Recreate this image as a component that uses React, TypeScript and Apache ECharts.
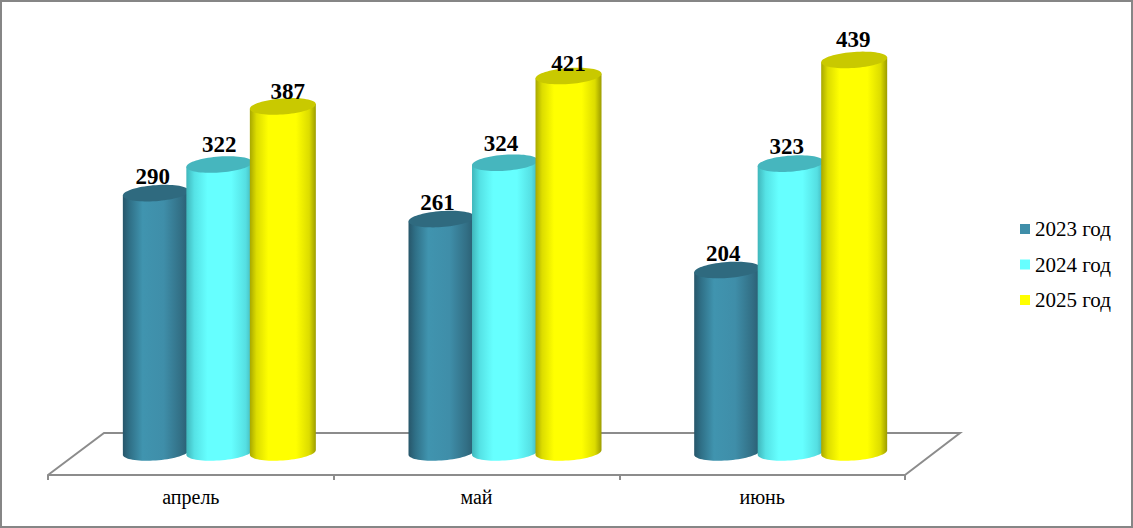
import React, { useEffect, useRef } from "react";
import * as echarts from "echarts";

const categories = ["апрель", "май", "июнь"];
const seriesNames = ["2023 год", "2024 год", "2025 год"];
const values2023 = [290, 261, 204];
const values2024 = [322, 324, 323];
const values2025 = [387, 421, 439];
const allValues = [values2023, values2024, values2025];

// label nudges [dx, dy] per series and category
const labelNudges = [
  [[-3, 0], [-4, 0], [-4, 0]],
  [[0, -3], [-4, -2], [-4, 0]],
  [[5, 2], [0, 4], [-1, -3]],
];

const FONT = '"Liberation Serif", "Times New Roman", serif';

const bodyStops = [
  [[0, "#27566a"], [0.1, "#2f6f86"], [0.3, "#4094af"], [0.62, "#3f8ea9"], [0.88, "#326f85"], [1, "#2a5d71"]],
  [[0, "#40b6bb"], [0.12, "#55e2e5"], [0.32, "#66ffff"], [0.68, "#66ffff"], [0.9, "#55dfe2"], [1, "#42b4b8"]],
  [[0, "#a8a800"], [0.1, "#dcdc00"], [0.28, "#ffff00"], [0.7, "#ffff00"], [0.9, "#dcdc00"], [1, "#9c9c00"]],
];
const topColors = ["#2f6a7f", "#46b6be", "#c9c900"];
const legendColors = ["#3f8ea9", "#66ffff", "#ffff00"];

const makeRender = (seriesIdx: number) => (params: any, api: any) => {
  const cat = api.value(0);
  const val = api.value(1);
  const band = api.size([1, 0])[0];
  const top = api.coord([cat, val]);
  const base = api.coord([cat, 0]);
  const cx = top[0] + band * 0.0998 + (seriesIdx - 1) * band * 0.2223;
  const a = band * 0.1155;
  const b = 8;
  const shear = 0.07;
  const lower: number[][] = [];
  const upper: number[][] = [];
  const steps = 36;
  for (let i = 0; i <= steps; i++) {
    const t = Math.PI - (Math.PI * i) / steps;
    const dx = a * Math.cos(t);
    lower.push([cx + dx, base[1] - dx * shear + b * Math.sin(t)]);
  }
  for (let i = 0; i < steps * 2; i++) {
    const t = (Math.PI * i) / steps;
    const dx = a * Math.cos(t);
    upper.push([cx + dx, top[1] - dx * shear + b * Math.sin(t)]);
  }
  const bodyPoints = [
    [cx - a, top[1] + a * shear],
    ...lower,
    [cx + a, top[1] - a * shear],
  ];
  const nudge = labelNudges[seriesIdx][params.dataIndex];
  return {
    type: "group",
    children: [
      {
        type: "polygon",
        shape: { points: bodyPoints },
        style: {
          fill: new echarts.graphic.LinearGradient(
            0, 0, 1, 0,
            bodyStops[seriesIdx].map(([offset, color]) => ({ offset, color }))
          ),
        },
      },
      {
        type: "polygon",
        shape: { points: upper },
        style: { fill: topColors[seriesIdx] },
      },
      {
        type: "text",
        x: cx + nudge[0],
        y: top[1] - 17 + nudge[1],
        z2: 10,
        style: {
          text: String(val),
          fontFamily: FONT,
          fontWeight: "bold",
          fontSize: 23,
          fill: "#000",
          align: "center",
          verticalAlign: "middle",
        },
      },
    ],
  };
};

export default function App() {
  const ref = useRef<HTMLDivElement>(null);
  useEffect(() => {
    const chart = echarts.init(ref.current!, undefined, { renderer: "svg" });
    chart.setOption({
      animation: false,
      backgroundColor: "#fff",
      grid: { left: 48, right: 228, top: 5.4, height: 447 },
      xAxis: {
        type: "category",
        data: categories,
        offset: 22.6,
        boundaryGap: true,
        axisLine: { show: true, onZero: false, lineStyle: { color: "#8c8c8c", width: 2 } },
        axisTick: { show: true, length: 5, lineStyle: { color: "#8c8c8c", width: 2 } },
        axisLabel: { fontFamily: FONT, fontSize: 20, color: "#000", margin: 12 },
      },
      yAxis: { type: "value", min: 0, max: 500, show: false },
      legend: {
        orient: "vertical",
        left: 1015,
        top: 213.5,
        itemWidth: 10,
        itemHeight: 10,
        itemGap: 14.5,
        icon: "rect",
        data: seriesNames,
        textStyle: { fontFamily: FONT, fontSize: 21, color: "#000" },
      },
      graphic: [
        {
          type: "polyline",
          z: 0,
          shape: { points: [[48, 475], [104, 433], [960, 433], [905, 475]] },
          style: { stroke: "#8c8c8c", lineWidth: 2, fill: "none" },
        },
        {
          type: "rect",
          z: 0,
          shape: { x: 1, y: 1, width: 1131, height: 526 },
          style: { stroke: "#868686", lineWidth: 2, fill: "none" },
        },
      ],
      series: seriesNames.map((name, i) => ({
        type: "custom",
        name,
        z: 3 + i,
        clip: false,
        itemStyle: { color: legendColors[i] },
        encode: { x: 0, y: 1 },
        data: allValues[i].map((v, c) => [c, v]),
        renderItem: makeRender(i),
      })),
    });
    return () => chart.dispose();
  }, []);
  return (
    <div
      ref={ref}
      style={{ position: "absolute", left: 0, top: 0, width: 1133, height: 528 }}
    />
  );
}
